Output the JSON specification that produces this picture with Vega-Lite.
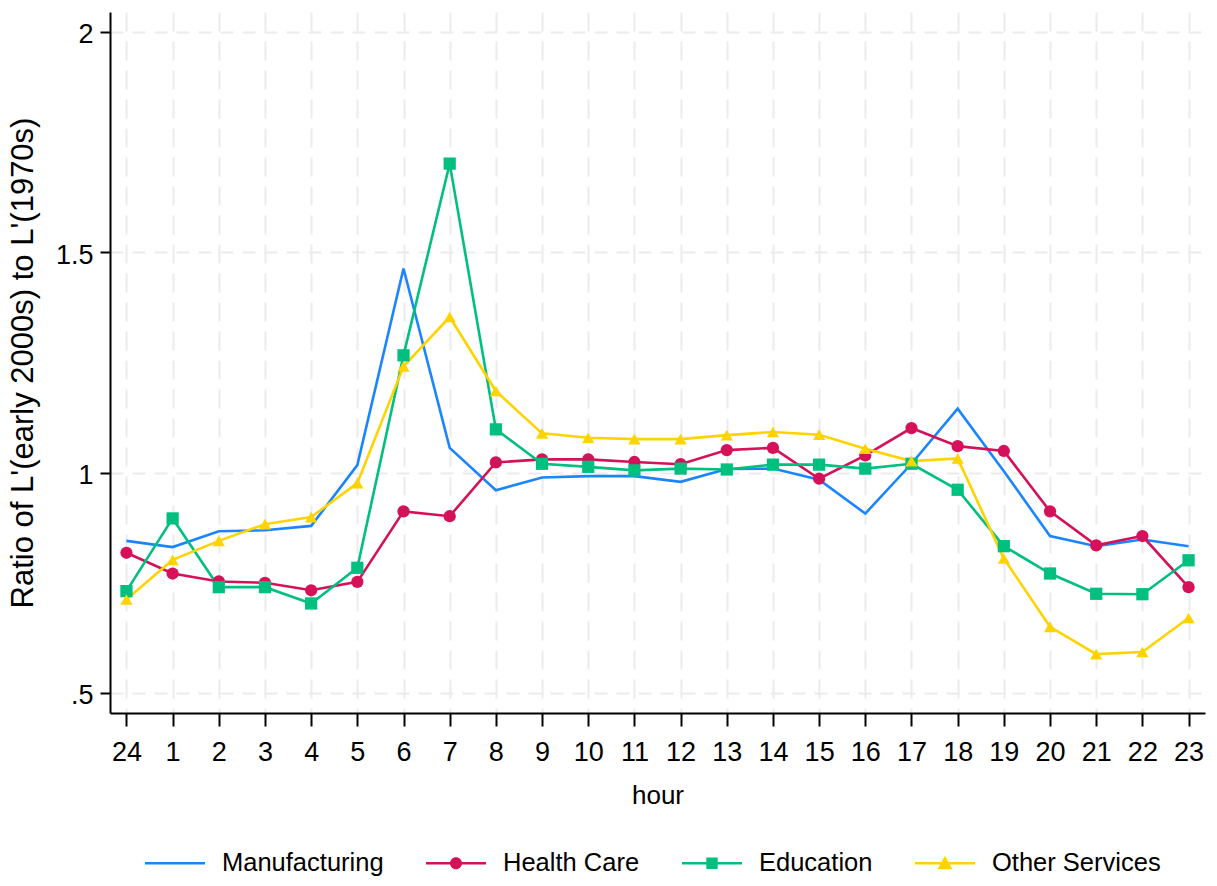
{
  "$schema": "https://vega.github.io/schema/vega-lite/v6.json",
  "width": 1095,
  "height": 701,
  "autosize": {"type": "none"},
  "padding": {"left": 110, "top": 12, "right": 12, "bottom": 173},
  "background": "white",
  "config": {
    "view": {"stroke": null},
    "axis": {
      "domainColor": "black",
      "domainWidth": 2,
      "tickColor": "black",
      "tickWidth": 2,
      "labelColor": "black",
      "titleColor": "black",
      "labelFont": "Liberation Sans",
      "labelFontSize": 27,
      "titleFontWeight": "normal",
      "gridColor": "#ebebeb",
      "gridWidth": 2
    }
  },
  "data": {
    "values": [
      {"hour": 24, "sector": "Manufacturing", "ratio": 0.845},
      {"hour": 1, "sector": "Manufacturing", "ratio": 0.831},
      {"hour": 2, "sector": "Manufacturing", "ratio": 0.867},
      {"hour": 3, "sector": "Manufacturing", "ratio": 0.869},
      {"hour": 4, "sector": "Manufacturing", "ratio": 0.879},
      {"hour": 5, "sector": "Manufacturing", "ratio": 1.017},
      {"hour": 6, "sector": "Manufacturing", "ratio": 1.463},
      {"hour": 7, "sector": "Manufacturing", "ratio": 1.056},
      {"hour": 8, "sector": "Manufacturing", "ratio": 0.960},
      {"hour": 9, "sector": "Manufacturing", "ratio": 0.989},
      {"hour": 10, "sector": "Manufacturing", "ratio": 0.992},
      {"hour": 11, "sector": "Manufacturing", "ratio": 0.992},
      {"hour": 12, "sector": "Manufacturing", "ratio": 0.979},
      {"hour": 13, "sector": "Manufacturing", "ratio": 1.008},
      {"hour": 14, "sector": "Manufacturing", "ratio": 1.009},
      {"hour": 15, "sector": "Manufacturing", "ratio": 0.984},
      {"hour": 16, "sector": "Manufacturing", "ratio": 0.907},
      {"hour": 17, "sector": "Manufacturing", "ratio": 1.020},
      {"hour": 18, "sector": "Manufacturing", "ratio": 1.145},
      {"hour": 19, "sector": "Manufacturing", "ratio": 1.003},
      {"hour": 20, "sector": "Manufacturing", "ratio": 0.856},
      {"hour": 21, "sector": "Manufacturing", "ratio": 0.833},
      {"hour": 22, "sector": "Manufacturing", "ratio": 0.848},
      {"hour": 23, "sector": "Manufacturing", "ratio": 0.833},
      {"hour": 24, "sector": "Health Care", "ratio": 0.818},
      {"hour": 1, "sector": "Health Care", "ratio": 0.771},
      {"hour": 2, "sector": "Health Care", "ratio": 0.753},
      {"hour": 3, "sector": "Health Care", "ratio": 0.750},
      {"hour": 4, "sector": "Health Care", "ratio": 0.733},
      {"hour": 5, "sector": "Health Care", "ratio": 0.752},
      {"hour": 6, "sector": "Health Care", "ratio": 0.912},
      {"hour": 7, "sector": "Health Care", "ratio": 0.901},
      {"hour": 8, "sector": "Health Care", "ratio": 1.023},
      {"hour": 9, "sector": "Health Care", "ratio": 1.030},
      {"hour": 10, "sector": "Health Care", "ratio": 1.030},
      {"hour": 11, "sector": "Health Care", "ratio": 1.024},
      {"hour": 12, "sector": "Health Care", "ratio": 1.019},
      {"hour": 13, "sector": "Health Care", "ratio": 1.051},
      {"hour": 14, "sector": "Health Care", "ratio": 1.056},
      {"hour": 15, "sector": "Health Care", "ratio": 0.986},
      {"hour": 16, "sector": "Health Care", "ratio": 1.039},
      {"hour": 17, "sector": "Health Care", "ratio": 1.101},
      {"hour": 18, "sector": "Health Care", "ratio": 1.060},
      {"hour": 19, "sector": "Health Care", "ratio": 1.049},
      {"hour": 20, "sector": "Health Care", "ratio": 0.912},
      {"hour": 21, "sector": "Health Care", "ratio": 0.835},
      {"hour": 22, "sector": "Health Care", "ratio": 0.856},
      {"hour": 23, "sector": "Health Care", "ratio": 0.740},
      {"hour": 24, "sector": "Education", "ratio": 0.731},
      {"hour": 1, "sector": "Education", "ratio": 0.896},
      {"hour": 2, "sector": "Education", "ratio": 0.740},
      {"hour": 3, "sector": "Education", "ratio": 0.740},
      {"hour": 4, "sector": "Education", "ratio": 0.703},
      {"hour": 5, "sector": "Education", "ratio": 0.784},
      {"hour": 6, "sector": "Education", "ratio": 1.266},
      {"hour": 7, "sector": "Education", "ratio": 1.701},
      {"hour": 8, "sector": "Education", "ratio": 1.098},
      {"hour": 9, "sector": "Education", "ratio": 1.020},
      {"hour": 10, "sector": "Education", "ratio": 1.013},
      {"hour": 11, "sector": "Education", "ratio": 1.005},
      {"hour": 12, "sector": "Education", "ratio": 1.009},
      {"hour": 13, "sector": "Education", "ratio": 1.007},
      {"hour": 14, "sector": "Education", "ratio": 1.018},
      {"hour": 15, "sector": "Education", "ratio": 1.018},
      {"hour": 16, "sector": "Education", "ratio": 1.009},
      {"hour": 17, "sector": "Education", "ratio": 1.020},
      {"hour": 18, "sector": "Education", "ratio": 0.961},
      {"hour": 19, "sector": "Education", "ratio": 0.833},
      {"hour": 20, "sector": "Education", "ratio": 0.771},
      {"hour": 21, "sector": "Education", "ratio": 0.725},
      {"hour": 22, "sector": "Education", "ratio": 0.724},
      {"hour": 23, "sector": "Education", "ratio": 0.801},
      {"hour": 24, "sector": "Other Services", "ratio": 0.712},
      {"hour": 1, "sector": "Other Services", "ratio": 0.802},
      {"hour": 2, "sector": "Other Services", "ratio": 0.845},
      {"hour": 3, "sector": "Other Services", "ratio": 0.883},
      {"hour": 4, "sector": "Other Services", "ratio": 0.899},
      {"hour": 5, "sector": "Other Services", "ratio": 0.976},
      {"hour": 6, "sector": "Other Services", "ratio": 1.241},
      {"hour": 7, "sector": "Other Services", "ratio": 1.353},
      {"hour": 8, "sector": "Other Services", "ratio": 1.185},
      {"hour": 9, "sector": "Other Services", "ratio": 1.089},
      {"hour": 10, "sector": "Other Services", "ratio": 1.079},
      {"hour": 11, "sector": "Other Services", "ratio": 1.076},
      {"hour": 12, "sector": "Other Services", "ratio": 1.076},
      {"hour": 13, "sector": "Other Services", "ratio": 1.085},
      {"hour": 14, "sector": "Other Services", "ratio": 1.092},
      {"hour": 15, "sector": "Other Services", "ratio": 1.086},
      {"hour": 16, "sector": "Other Services", "ratio": 1.054},
      {"hour": 17, "sector": "Other Services", "ratio": 1.026},
      {"hour": 18, "sector": "Other Services", "ratio": 1.032},
      {"hour": 19, "sector": "Other Services", "ratio": 0.805},
      {"hour": 20, "sector": "Other Services", "ratio": 0.650},
      {"hour": 21, "sector": "Other Services", "ratio": 0.588},
      {"hour": 22, "sector": "Other Services", "ratio": 0.593},
      {"hour": 23, "sector": "Other Services", "ratio": 0.670}
    ]
  },
  "encoding": {
    "x": {
      "field": "hour",
      "type": "ordinal",
      "sort": [24, 1, 2, 3, 4, 5, 6, 7, 8, 9, 10, 11, 12, 13, 14, 15, 16, 17, 18, 19, 20, 21, 22, 23],
      "scale": {"type": "point", "padding": 0.356},
      "axis": {
        "title": "hour",
        "titleFont": "Liberation Sans",
        "titleFontSize": 26,
        "titlePadding": 17,
        "labelAngle": 0,
        "labelPadding": 13,
        "tickSize": 13,
        "grid": true,
        "gridDash": [19, 10]
      }
    },
    "y": {
      "field": "ratio",
      "type": "quantitative",
      "scale": {"domain": [0.4545, 2.045], "zero": false, "nice": false},
      "axis": {
        "title": "Ratio of L'(early 2000s) to L'(1970s)",
        "titleFont": "Liberation Sans",
        "titleFontSize": 31,
        "titlePadding": 16,
        "values": [0.5, 1, 1.5, 2],
        "labelExpr": "datum.value == 0.5 ? '.5' : format(datum.value, '~g')",
        "labelPadding": 7,
        "labelOffset": 3,
        "tickSize": 10,
        "grid": true,
        "gridDash": [13, 9]
      }
    },
    "color": {
      "field": "sector",
      "type": "nominal",
      "scale": {
        "domain": ["Manufacturing", "Health Care", "Education", "Other Services"],
        "range": ["#1a85ff", "#d41159", "#00bf7f", "#ffd300"]
      },
      "legend": null
    }
  },
  "layer": [
    {
      "mark": {"type": "line", "strokeWidth": 2.6}
    },
    {
      "transform": [{"filter": "datum.sector != 'Manufacturing'"}],
      "mark": {"type": "point", "filled": true, "opacity": 1},
      "encoding": {
        "shape": {
          "field": "sector",
          "type": "nominal",
          "scale": {
            "domain": ["Health Care", "Education", "Other Services"],
            "range": ["circle", "square", "triangle-up"]
          },
          "legend": null
        },
        "size": {
          "field": "sector",
          "type": "nominal",
          "scale": {
            "domain": ["Health Care", "Education", "Other Services"],
            "range": [150, 150, 200]
          },
          "legend": null
        }
      }
    },
    {
      "mark": {"type": "point", "filled": true, "opacity": 0},
      "encoding": {
        "color": {
          "field": "sector",
          "type": "nominal",
          "legend": {
            "orient": "none",
            "legendX": 35,
            "legendY": 821,
            "direction": "horizontal",
            "title": null,
            "labelFont": "Liberation Sans",
            "labelFontSize": 25.5,
            "labelColor": "black",
            "labelLimit": 0,
            "labelOffset": 17,
            "columnPadding": 42,
            "symbolSize": 3600,
            "symbolOpacity": 1,
            "symbolStrokeWidth": 0
          }
        },
        "shape": {
          "field": "sector",
          "type": "nominal",
          "scale": {
            "domain": ["Manufacturing", "Health Care", "Education", "Other Services"],
            "range": [
              "M-1,-0.042H1V0.042H-1Z",
              "M-1,-0.042H1V0.042H-1Z M-0.2,0A0.2,0.2 0 1,1 0.2,0A0.2,0.2 0 1,1 -0.2,0Z",
              "M-1,-0.042H1V0.042H-1Z M-0.19,-0.19H0.19V0.19H-0.19Z",
              "M-1,-0.042H1V0.042H-1Z M0,-0.25L0.25,0.2L-0.25,0.2Z"
            ]
          },
          "legend": {
            "orient": "none",
            "legendX": 35,
            "legendY": 821,
            "direction": "horizontal",
            "title": null,
            "labelFont": "Liberation Sans",
            "labelFontSize": 25.5,
            "labelColor": "black",
            "labelLimit": 0,
            "labelOffset": 17,
            "columnPadding": 42,
            "symbolSize": 3600,
            "symbolOpacity": 1,
            "symbolStrokeWidth": 0
          }
        }
      }
    }
  ],
  "resolve": {
    "scale": {"shape": "independent"},
    "legend": {"color": "independent", "shape": "independent"}
  }
}
